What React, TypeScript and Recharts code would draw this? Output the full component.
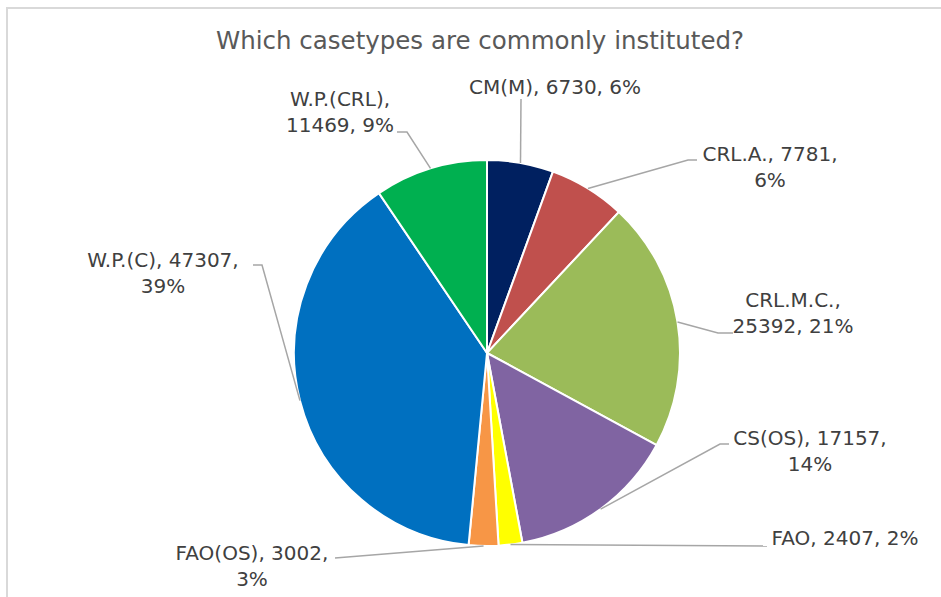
import React from 'react'
import { PieChart, Pie, Cell } from 'recharts'

const caseTypes = ['CM(M)', 'CRL.A.', 'CRL.M.C.', 'CS(OS)', 'FAO', 'FAO(OS)', 'W.P.(C)', 'W.P.(CRL)']
const caseCounts = [6730, 7781, 25392, 17157, 2407, 3002, 47307, 11469]
const sliceColors = ['#002060', '#C0504D', '#9BBB59', '#8064A2', '#FFFF00', '#F79646', '#0070C0', '#00B050']

// label placement: text centre x, first baseline, how many parts go on line one,
// and the leader path from the slice edge out to the text
const labelLayout = [
    { x: 555, y: 94, split: 3, path: [[521, 99]] },
    { x: 770, y: 161, split: 2, path: [[688, 160], [697, 160]] },
    { x: 793, y: 307, split: 1, path: [[718, 333], [733, 333]] },
    { x: 810, y: 445, split: 2, path: [[720, 444], [729, 444]] },
    { x: 845, y: 545, split: 3, path: [[767, 546]] },
    { x: 252, y: 560, split: 2, path: [[335, 558]] },
    { x: 163, y: 267, split: 2, path: [[262, 265], [253, 265]] },
    { x: 340, y: 106, split: 1, path: [[407, 132], [397, 132]] },
]

const FONT = '"DejaVu Sans", sans-serif'
const RADIAN = Math.PI / 180

// whole percentages that add up to 100 (largest remainder)
function roundedShares(values: number[]) {
    const total = values.reduce((a, b) => a + b, 0)
    const raw = values.map(v => (v / total) * 100)
    const out = raw.map(r => Math.floor(r))
    let left = 100 - out.reduce((a, b) => a + b, 0)
    const order = raw
        .map((r, i) => ({ i, rem: r - Math.floor(r) }))
        .sort((a, b) => b.rem - a.rem)
    for (let k = 0; k < left; k++) out[order[k].i] += 1
    return out
}

const shares = roundedShares(caseCounts)

const data = caseTypes.map((name, i) => ({
    name,
    value: caseCounts[i],
    share: shares[i],
}))

function renderLabel(props: any) {
    const { cx, cy, midAngle, outerRadius, index, name, value } = props
    const layout = labelLayout[index]
    const ex = cx + outerRadius * Math.cos(-midAngle * RADIAN)
    const ey = cy + outerRadius * Math.sin(-midAngle * RADIAN)
    const points = [[ex, ey], ...layout.path].map(p => p.join(',')).join(' ')

    const parts = [name, String(value), `${shares[index]}%`]
    const first = parts.slice(0, layout.split).join(', ')
    const rest = parts.slice(layout.split).join(', ')
    const line1 = rest ? first + ',' : first

    return (
        <g key={`label-${index}`}>
            <polyline points={points} fill="none" stroke="#A6A6A6" strokeWidth={1.5} />
            <text
                x={layout.x}
                y={layout.y}
                textAnchor="middle"
                fill="#404040"
                fontSize={20}
                fontFamily={FONT}
            >
                <tspan x={layout.x}>{line1}</tspan>
                {rest && (
                    <tspan x={layout.x} dy={26}>
                        {rest}
                    </tspan>
                )}
            </text>
        </g>
    )
}

export default function App() {
    return (
        <div
            style={{
                position: 'fixed',
                left: 0,
                top: 0,
                width: 941,
                height: 597,
                overflow: 'hidden',
                background: '#fff',
            }}
        >
            <div
                style={{
                    position: 'absolute',
                    left: 6,
                    top: 7,
                    width: 1000,
                    height: 700,
                    borderTop: '2px solid #D9D9D9',
                    borderLeft: '2px solid #D9D9D9',
                }}
            />
            <svg width={941} height={597} style={{ position: 'absolute', left: 0, top: 0 }}>
                <text
                    x={480}
                    y={49}
                    textAnchor="middle"
                    fill="#595959"
                    fontSize={24.5}
                    fontFamily={FONT}
                >
                    Which casetypes are commonly instituted?
                </text>
            </svg>
            <div style={{ position: 'absolute', left: 0, top: 0 }}>
                <PieChart width={941} height={597} margin={{ top: 0, right: 0, bottom: 0, left: 0 }}>
                    <Pie
                        data={data}
                        dataKey="value"
                        nameKey="name"
                        cx={487}
                        cy={353}
                        outerRadius={193}
                        startAngle={90}
                        endAngle={-270}
                        stroke="#FFFFFF"
                        strokeWidth={2}
                        label={renderLabel}
                        labelLine={false}
                        isAnimationActive={false}
                    >
                        {data.map((d, i) => (
                            <Cell key={d.name} fill={sliceColors[i]} />
                        ))}
                    </Pie>
                </PieChart>
            </div>
        </div>
    )
}
